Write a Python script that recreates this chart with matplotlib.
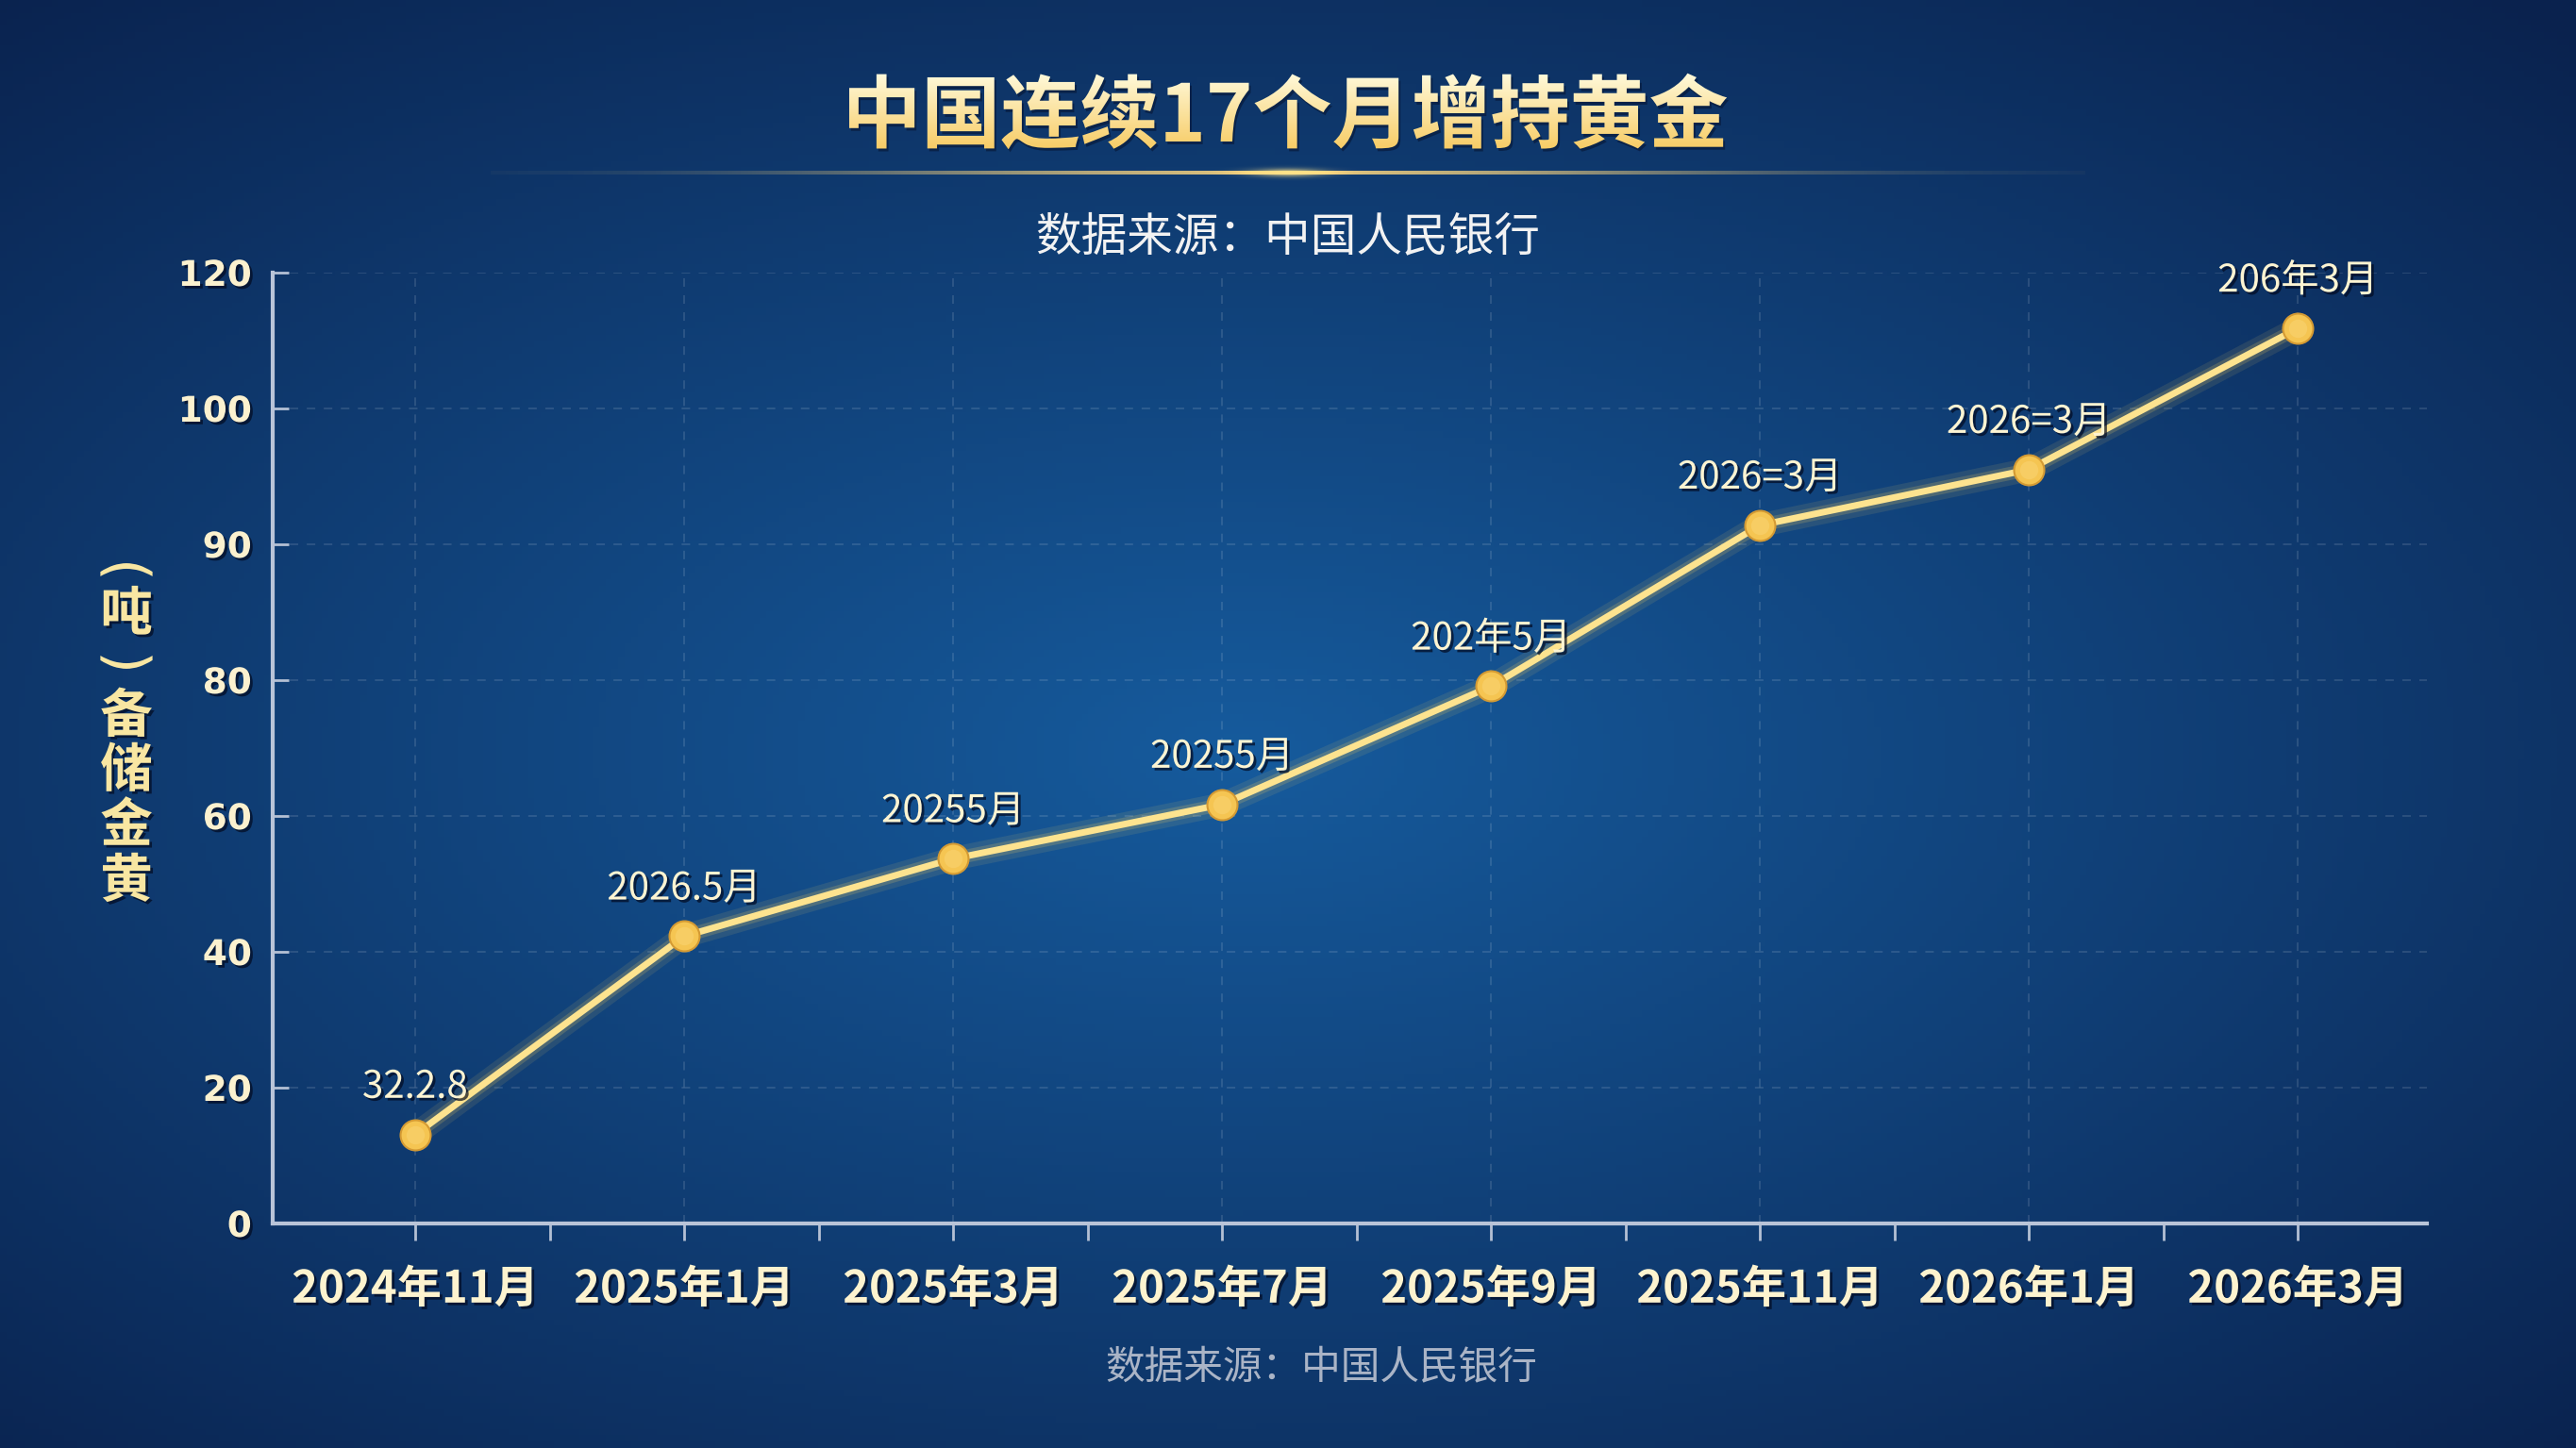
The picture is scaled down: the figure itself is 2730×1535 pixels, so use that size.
import numpy as np
import matplotlib
matplotlib.use('Agg')
import matplotlib.pyplot as plt
import matplotlib.patheffects as pe
from matplotlib.textpath import TextPath
from matplotlib.font_manager import FontProperties
from matplotlib.patches import PathPatch
from matplotlib.transforms import Affine2D
from matplotlib.ticker import FixedLocator

plt.rcParams['font.family'] = ['Noto Sans CJK SC', 'DejaVu Sans']

# 数据
months = ['2024年11月', '2025年1月', '2025年3月', '2025年7月',
          '2025年9月', '2025年11月', '2026年1月', '2026年3月']
reserves = [13.1, 42.3, 53.7, 61.7, 79.1, 91.4, 95.5, 111.8]
point_labels = ['32.2.8', '2026.5月', '20255月', '20255月',
                '202年5月', '2026=3月', '2026=3月', '206年3月']
y_ticks = [0, 20, 40, 60, 80, 90, 100, 120]
ylabel_chars = ['(', '吨', ')', '备', '储', '金', '黄']

W, H = 2730, 1535
fig = plt.figure(figsize=(W / 100, H / 100), dpi=100)

# 背景渐变
bg = fig.add_axes([0, 0, 1, 1], zorder=-10)
gx, gy = np.meshgrid(np.linspace(0, 1, 400), np.linspace(0, 1, 225))
d = np.sqrt(((gx - 0.48) / 0.75) ** 2 + ((gy - 0.52) / 0.7) ** 2)
d = np.clip(d, 0, 1)
c_in = np.array([0x16, 0x5b, 0x9d]) / 255
c_out = np.array([0x0a, 0x22, 0x4e]) / 255
img = c_in[None, None, :] * (1 - d[..., None]) + c_out[None, None, :] * d[..., None]
bg.imshow(img, extent=[0, W, 0, H], aspect='auto', origin='upper', zorder=0)
bg.axis('off')

# 标题（金色渐变）
fp = FontProperties(family='Noto Sans CJK SC', weight='black')
tp = TextPath((0, 0), '中国连续17个月增持黄金', size=84, prop=fp)
ext = tp.get_extents()
cx, cy = W / 2, H - 118
tr = Affine2D().translate(cx - (ext.x0 + ext.x1) / 2, cy - (ext.y0 + ext.y1) / 2)
tpath = tr.transform_path(tp)
shadow = PathPatch(Affine2D().translate(2, -3).transform_path(tpath),
                   facecolor='#05102a', edgecolor='none', alpha=0.5, zorder=1)
bg.add_patch(shadow)
clip = PathPatch(tpath, facecolor='none', edgecolor='none')
bg.add_patch(clip)
e2 = tpath.get_extents()
grad = np.linspace(0, 1, 100)[:, None]
top_c = np.array([1.0, 0.98, 0.86])
bot_c = np.array([0.97, 0.80, 0.40])
gimg = top_c[None, None, :] * (1 - grad[..., None]) + bot_c[None, None, :] * grad[..., None]
gimg = np.repeat(gimg, 2, axis=1)
im = bg.imshow(gimg, extent=[e2.x0, e2.x1, e2.y0, e2.y1], aspect='auto',
               origin='upper', interpolation='bilinear', zorder=2)
im.set_clip_path(clip)

# 标题下的金线
lx = np.linspace(0, 1, 800)
alpha = np.exp(-((lx - 0.5) / 0.28) ** 2) * 0.85
alpha = np.clip(alpha + np.exp(-((lx - 0.5) / 0.03) ** 2) * 0.3, 0, 1)
row = np.zeros((1, 800, 4))
row[..., 0], row[..., 1], row[..., 2] = 1.0, 0.85, 0.5
row[0, :, 3] = alpha
bg.imshow(row, extent=[520, 2210, H - 185, H - 181], aspect='auto', zorder=2)
glow = np.zeros((20, 200, 4))
gxx, gyy = np.meshgrid(np.linspace(-1, 1, 200), np.linspace(-1, 1, 20))
glow[..., 0], glow[..., 1], glow[..., 2] = 1.0, 0.9, 0.55
glow[..., 3] = np.clip(np.exp(-(gxx ** 2 / 0.15 + gyy ** 2 / 0.2)) * 0.8, 0, 1)
bg.imshow(glow, extent=[1265, 1465, H - 193, H - 173], aspect='auto', zorder=2)
bg.set_xlim(0, W)
bg.set_ylim(0, H)

fig.text(0.5, 1 - 252 / H, '数据来源：中国人民银行', ha='center', va='center',
         fontsize=35, color='#f2f2f2')
fig.text(1400 / W, 1 - 1450 / H, '数据来源：中国人民银行', ha='center', va='center',
         fontsize=30, color='#aab4c6')

shadow_fx = [pe.SimplePatchShadow(offset=(2, -2), shadow_rgbFace='#020a20', alpha=0.7), pe.Normal()]

# 纵向标题（逐字竖排，括号横放）
ylab_y = [604, 652, 702, 760, 818, 876, 935]
paren_fp = FontProperties(family='DejaVu Sans')
for ch, yy in zip(ylabel_chars, ylab_y):
    if ch in '()':
        pp = TextPath((0, 0), ch, size=62, prop=paren_fp)
        pp = Affine2D().rotate_deg(-90).transform_path(pp)
        pe_ = pp.get_extents()
        pp = Affine2D().translate(134 - (pe_.x0 + pe_.x1) / 2,
                                  H - yy - (pe_.y0 + pe_.y1) / 2).transform_path(pp)
        bg.add_patch(PathPatch(pp, facecolor='#f8e6a2', edgecolor='none', zorder=3))
    else:
        fig.text(134 / W, 1 - yy / H, ch, ha='center', va='center', fontsize=40,
                 color='#f8e6a2', fontweight='bold', path_effects=shadow_fx)

# 主图
ax = fig.add_axes([289 / W, 1 - 1297 / H, (2572 - 289) / W, (1297 - 289) / H])
ax.set_facecolor('none')

tick_pos = np.arange(len(y_ticks))
fwd = lambda v: np.interp(v, y_ticks, tick_pos)
inv = lambda p: np.interp(p, tick_pos, y_ticks)
ax.set_yscale('function', functions=(fwd, inv))
ax.set_ylim(0, 120)
ax.set_xlim(-0.53, 7.48)

x = np.arange(len(months))
ax.plot(x, reserves, color='#ffd760', lw=18, alpha=0.10, solid_capstyle='round', zorder=3)
ax.plot(x, reserves, color='#ffd760', lw=10, alpha=0.18, solid_capstyle='round', zorder=3)
ax.plot(x, reserves, color='#fde38f', lw=5, zorder=4, solid_capstyle='round')
ax.plot(x, reserves, 'o', ms=23, mfc='#f5c552', mec='#d49a33', mew=1.5, zorder=5)
ax.plot(x, reserves, 'o', ms=14, mfc='#fbdc86', mec='none', alpha=0.35, zorder=6)

for xi, yi, lab in zip(x, reserves, point_labels):
    ax.annotate(lab, (xi, yi), xytext=(0, 28), textcoords='offset points',
                ha='center', va='baseline', fontsize=29, color='#fdf4d2',
                fontweight='medium', path_effects=shadow_fx, zorder=7)

ax.yaxis.set_major_locator(FixedLocator(y_ticks))
ax.set_yticklabels([str(t) for t in y_ticks], fontsize=27, color='#fbf1cf',
                   family='DejaVu Sans', fontweight='bold')
for t in ax.get_yticklabels():
    t.set_path_effects(shadow_fx)
ax.set_xticks(x)
ax.set_xticklabels(months, fontsize=34, color='#fdf3cf', fontweight='bold')
for t in ax.get_xticklabels():
    t.set_path_effects(shadow_fx)
ax.set_xticks(x[:-1] + 0.5, minor=True)
ax.tick_params(axis='x', which='both', direction='out', length=13, width=2,
               color='#b4c0d4', pad=20)
ax.tick_params(axis='y', direction='in', length=12, width=2, color='#b4c0d4', pad=16)
ax.yaxis.set_minor_locator(FixedLocator([]))

ax.grid(True, which='major', color='#ffffff', alpha=0.13, lw=1.3, ls=(0, (5, 5)))
for s in ['top', 'right']:
    ax.spines[s].set_visible(False)
for s in ['left', 'bottom']:
    ax.spines[s].set_color('#b9c4d8')
    ax.spines[s].set_linewidth(3)

fig.savefig('out.png', dpi=100)
